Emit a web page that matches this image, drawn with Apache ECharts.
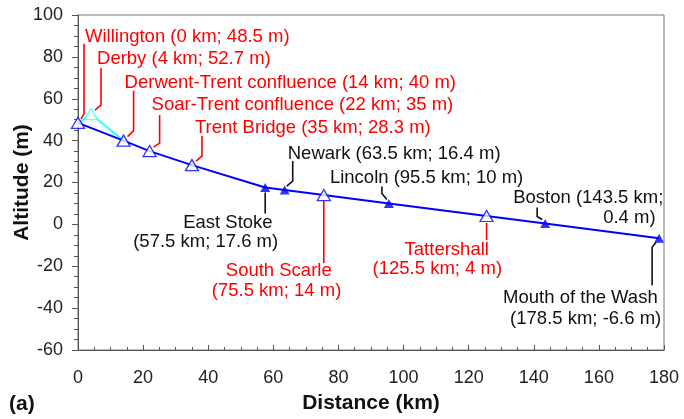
<!DOCTYPE html>
<html>
<head>
<meta charset="utf-8">
<script src="https://cdn.jsdelivr.net/npm/echarts@6/dist/echarts.min.js"></script>
<style>html,body{margin:0;padding:0;background:#fff;}#c{width:684px;height:419px;}</style>
</head>
<body>
<div id="c"></div>
<script>
// ---- data ----
const sites = ['Willington','Derby','Derwent-Trent confluence','Soar-Trent confluence','Trent Bridge','East Stoke','Newark','South Scarle','Lincoln','Tattershall','Boston','Mouth of the Wash'];
const distanceKm = [0, 4, 14, 22, 35, 57.5, 63.5, 75.5, 95.5, 125.5, 143.5, 178.5];
const altitudeM = [48.5, 52.7, 40, 35, 28.3, 17.6, 16.4, 14, 10, 4, 0.4, -6.6];
const mainRoute = [0, 2, 3, 4, 5, 6, 7, 8, 9, 10, 11];
const derbyRoute = [0, 1, 2];
const openSites = [0, 1, 2, 3, 4, 7, 9];
const solidSites = [5, 6, 8, 10, 11];
const labelText = [
  ['Willington (0 km; 48.5 m)'],
  ['Derby (4 km; 52.7 m)'],
  ['Derwent-Trent confluence (14 km; 40 m)'],
  ['Soar-Trent confluence (22 km; 35 m)'],
  ['Trent Bridge (35 km; 28.3 m)'],
  ['East Stoke', '(57.5 km; 17.6 m)'],
  ['Newark (63.5 km; 16.4 m)'],
  ['South Scarle', '(75.5 km; 14 m)'],
  ['Lincoln (95.5 km; 10 m)'],
  ['Tattershall', '(125.5 km; 4 m)'],
  ['Boston (143.5 km;', '0.4 m)'],
  ['Mouth of the Wash', '(178.5 km; -6.6 m)']
];
const xTicks = { min: 0, max: 180, step: 20 };
const yTicks = { min: -60, max: 100, step: 20 };

// ---- annotation layout (pixel offsets from each point) ----
const layout = [
  { leader: [[3,-4],[6,-9],[6,-79]], lines: [[7,-86]] },
  { leader: [[4,-4],[10,-9],[10,-46]], lines: [[6,-55]] },
  { leader: [[4,-4],[10,-10],[10,-50]], lines: [[1,-58]] },
  { leader: [[4,-4],[10,-8],[10,-36]], lines: [[2,-46]] },
  { leader: [[4,-4],[10,-9],[10,-29]], lines: [[3,-37]] },
  { leader: [[0,5],[0,26]], lines: [[-82,35],[-132,54]] },
  { leader: [[2,-4],[8,-9],[8,-29]], lines: [[3,-36.5]] },
  { leader: [[0,6],[0,68]], lines: [[-98,76],[-112,96]] },
  { leader: [[-2,-4],[-7,-10],[-7,-17]], lines: [[-59,-26]] },
  { leader: [[0,7],[0,24]], lines: [[-82,33.6],[-114,52.6]] },
  { leader: [[-3,-4],[-8,-7],[-8,-16]], lines: [[-32,-26],[58,-6]] },
  { leader: [[-3,4],[-7,9],[-7,47]], lines: [[-156,59.5],[-149,80.5]] }
];

const RED = '#ff0000', BLACK = '#111111', BLUE = '#0000ff', CYAN = '#33ffff';
const FONT = '"Liberation Sans", Arial, sans-serif';

const pts = idx => idx.map(i => [distanceKm[i], altitudeM[i]]);

const chart = echarts.init(document.getElementById('c'), null, { renderer: 'canvas' });
chart.setOption({
  animation: false,
  backgroundColor: '#fff',
  title: { text: '(a)', left: 4, top: 389, textStyle: { fontFamily: FONT, fontSize: 21, fontWeight: 'bold', color: '#111' } },
  grid: { left: 78, right: 20, top: 15, bottom: 69, containLabel: false, outerBoundsMode: 'none', show: true, borderColor: '#777', borderWidth: 1, backgroundColor: 'transparent' },
  xAxis: {
    type: 'value', min: xTicks.min, max: xTicks.max, interval: xTicks.step,
    name: 'Distance (km)', nameLocation: 'middle', nameGap: 43, nameMoveOverlap: false,
    nameTextStyle: { fontFamily: FONT, fontSize: 21, fontWeight: 'bold', color: '#111' },
    axisLine: { show: true, onZero: false, lineStyle: { color: '#555', width: 1 } },
    axisTick: { show: true, inside: true, length: 5, lineStyle: { color: '#555' } },
    minorTick: { show: true, splitNumber: 4, length: 3, lineStyle: { color: '#555' } },
    splitLine: { show: false },
    axisLabel: { fontFamily: FONT, fontSize: 18, color: '#222', margin: 19 }
  },
  yAxis: {
    type: 'value', min: yTicks.min, max: yTicks.max, interval: yTicks.step,
    name: 'Altitude (m)', nameLocation: 'middle', nameGap: 45, nameMoveOverlap: false,
    nameTextStyle: { fontFamily: FONT, fontSize: 21, fontWeight: 'bold', color: '#111' },
    axisLine: { show: true, onZero: false, lineStyle: { color: '#555', width: 1 } },
    axisTick: { show: true, inside: false, length: 6, lineStyle: { color: '#555' } },
    minorTick: { show: true, splitNumber: 4, length: 4, lineStyle: { color: '#555' } },
    splitLine: { show: false },
    axisLabel: { fontFamily: FONT, fontSize: 18, color: '#222', margin: 15 }
  },
  series: [
    { type: 'line', data: pts(derbyRoute), symbol: 'none', lineStyle: { color: CYAN, width: 2 }, z: 2 },
    { type: 'line', data: pts(mainRoute), symbol: 'none', lineStyle: { color: BLUE, width: 2 }, z: 3 },
    {
      type: 'custom', coordinateSystem: 'cartesian2d', clip: false, z: 4,
      data: distanceKm.map((d, i) => [d, altitudeM[i], i]),
      renderItem: function (params, api) {
        const i = api.value(2);
        const p = api.coord([api.value(0), api.value(1)]);
        const L = layout[i];
        const col = openSites.indexOf(i) >= 0 ? RED : BLACK;
        const children = [{
          type: 'polyline',
          shape: { points: L.leader.map(o => [p[0] + o[0], p[1] + o[1]]) },
          style: { stroke: col, lineWidth: 1.6, fill: null }
        }];
        labelText[i].forEach((t, k) => {
          children.push({
            type: 'text',
            x: p[0] + L.lines[k][0], y: p[1] + L.lines[k][1],
            style: { text: t, fill: col, font: '18.5px ' + FONT, textAlign: 'left', textVerticalAlign: 'middle' }
          });
        });
        return { type: 'group', children: children };
      }
    },
    {
      type: 'scatter', data: pts(openSites.filter(i => i !== 1)), symbol: 'triangle', symbolSize: [13, 11],
      itemStyle: { color: '#fff', borderColor: BLUE, borderWidth: 1.3 }, z: 5
    },
    {
      type: 'scatter', data: pts([1]), symbol: 'triangle', symbolSize: [13, 11],
      itemStyle: { color: '#fff', borderColor: CYAN, borderWidth: 1.3 }, z: 5
    },
    {
      type: 'scatter', data: pts(solidSites), symbol: 'triangle', symbolSize: [10, 9],
      itemStyle: { color: BLUE }, z: 5
    }
  ]
});
</script>
</body>
</html>
